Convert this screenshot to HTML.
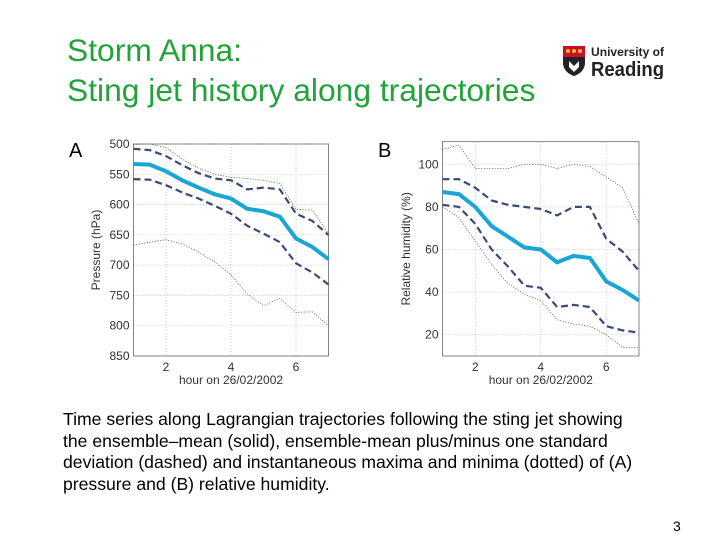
<!DOCTYPE html>
<html><head><meta charset="utf-8"><style>
body{margin:0;width:720px;height:540px;background:#fff;position:relative;overflow:hidden;font-family:"Liberation Sans",sans-serif}
.t{position:absolute;left:67px;color:#22a33a;font-size:31.8px;white-space:nowrap}
.cap{position:absolute;left:63px;top:409px;font-size:17.6px;line-height:21.5px;color:#000;width:585px}
.lab{position:absolute;font-size:20px}
</style></head><body>
<div class="t" style="top:32px">Storm Anna:</div>
<div class="t" style="top:72px">Sting jet history along trajectories</div>
<div style="position:absolute;left:562px;top:44px;width:105px;height:35px">
<svg width="105" height="35"><path d="M1 2h22v16q0 10-11 14q-11-4-11-14z" fill="#c8102e"/><rect x="1" y="2" width="22" height="9" fill="#c8102e"/><circle cx="6" cy="7" r="2" fill="#f0c020"/><circle cx="12" cy="7" r="2" fill="#f0c020"/><circle cx="18" cy="7" r="2" fill="#f0c020"/><path d="M1 13h22v5q0 10-11 14q-11-4-11-14z" fill="#222"/><path d="M7 17l5 5 5-5v6l-5 5-5-5z" fill="#fff"/>
<text x="29" y="12" font-size="12" font-weight="bold" fill="#222" font-family="Liberation Sans" textLength="73" lengthAdjust="spacingAndGlyphs">University of</text>
<text x="29" y="32" font-size="20" font-weight="bold" fill="#222" font-family="Liberation Sans" textLength="73" lengthAdjust="spacingAndGlyphs">Reading</text></svg></div>
<div class="lab" style="left:69px;top:140px">A</div>
<div class="lab" style="left:378px;top:140px">B</div>
<svg id="ch" width="720" height="540" style="position:absolute;left:0;top:0"></svg>
<div class="cap">Time series along Lagrangian trajectories following the sting jet showing the ensemble–mean (solid), ensemble-mean plus/minus one standard deviation (dashed) and instantaneous maxima and minima (dotted) of (A) pressure and (B) relative humidity.</div>
<div style="position:absolute;left:673px;top:518px;font-size:14px">3</div>
<script>
const hours=[1,1.5,2,2.5,3,3.5,4,4.5,5,5.5,6,6.5,7];
const pMean=[533,534,545,560,572,583,590,607,611,620,656,670,690];
const pUp=[508,510,520,535,548,557,560,575,572,575,615,627,650];
const pLo=[558,559,568,580,590,602,615,635,648,662,697,712,732];
const pMax=[501,500,506,525,540,550,555,557,560,565,608,609,648];
const pMin=[667,662,658,665,678,695,716,748,767,755,778,777,800];
const rMean=[87,86,80,71,66,61,60,54,57,56,45,41,36];
const rUp=[93,93,89,83,81,80,79,76,80,80,65,59,50];
const rLo=[81,80,72,60,52,43,42,33,34,33,24,22,21];
const rMax=[107,109,98,98,98,100,100,98,100,99,94,89,72];
const rMin=[80,75,64,53,44,39,36,27,25,24,20,14,14];
const xTicks=[2,4,6];
const pTicks=[500,550,600,650,700,750,800,850];
const rTicks=[20,40,60,80,100];
const NS="http://www.w3.org/2000/svg";
const svg=document.getElementById('ch');
function mk(t,a,p){const e=document.createElementNS(NS,t);for(const k in a)e.setAttribute(k,a[k]);(p||svg).appendChild(e);return e;}
function panel(o){
const g=mk('g',{});


const X=v=>o.x0+(v-1)/6*(o.x1-o.x0);
const Y=v=>o.y0+(v-o.v0)/(o.v1-o.v0)*(o.y1-o.y0);
xTicks.forEach(t=>{const l=mk('line',{x1:X(t),x2:X(t),y1:o.y0,y2:o.y1,stroke:'#bbb','stroke-dasharray':'1 2','stroke-width':0.8},g);
const tx=mk('text',{x:X(t),y:o.y1+15,'font-size':12,'text-anchor':'middle',fill:'#333'},g);tx.textContent=t;});
o.ticks.forEach(t=>{const l=mk('line',{x1:o.x0,x2:o.x1,y1:Y(t),y2:Y(t),stroke:'#bbb','stroke-dasharray':'1 2','stroke-width':0.8},g);
const tx=mk('text',{x:o.x0-4,y:Y(t)+4,'font-size':12,'text-anchor':'end',fill:'#333'},g);tx.textContent=t;});
const r=mk('rect',{x:o.x0,y:o.y0,width:o.x1-o.x0,height:o.y1-o.y0,fill:'none',stroke:'#666','stroke-width':0.8},g);
const xl=mk('text',{x:(o.x0+o.x1)/2,y:o.y1+28,'font-size':12,'text-anchor':'middle',fill:'#333'},g);xl.textContent='hour on 26/02/2002';
const yl=mk('text',{x:0,y:0,'font-size':12,'text-anchor':'middle',fill:'#333',transform:`translate(${o.ylx},${(o.y0+o.y1)/2}) rotate(-90)`},g);yl.textContent=o.ytitle;
o.series.forEach(s=>{const d=hours.map((h,i)=>(i?'L':'M')+X(h).toFixed(1)+' '+Y(s.v[i]).toFixed(1)).join(' ');
const p=mk('path',{d:d,fill:'none',stroke:s.c,'stroke-width':s.w,'stroke-dasharray':s.da||'none'},g);});
}
const ser=(mean,up,lo,mx,mn)=>[
{v:mx,c:'#4a7a4a',w:0.8,da:'1.2 1.5',n:'max-dotted-line'},
{v:mn,c:'#4a7a4a',w:0.8,da:'1.2 1.5',n:'min-dotted-line'},
{v:up,c:'#3a4a78',w:2.2,da:'7 4',n:'plus-std-dashed-line'},
{v:lo,c:'#3a4a78',w:2.2,da:'7 4',n:'minus-std-dashed-line'},
{v:mean,c:'#1aa6d4',w:4,n:'mean-line'}];
panel({name:'chart-a-pressure',x0:133.5,x1:328.5,y0:144,y1:356,v0:500,v1:850,ticks:pTicks,ytitle:'Pressure (hPa)',ylx:100,series:ser(pMean,pUp,pLo,pMax,pMin)});
panel({name:'chart-b-humidity',x0:442.5,x1:639,y0:141.7,y1:356,v0:110.6,v1:10,ticks:rTicks,ytitle:'Relative humidity (%)',ylx:410,series:ser(rMean,rUp,rLo,rMax,rMin)});
</script>
</body></html>
